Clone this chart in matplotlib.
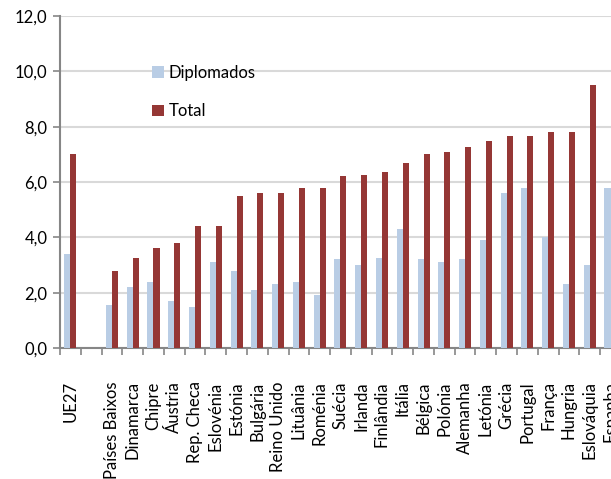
import numpy as np
import matplotlib
matplotlib.use("Agg")
from matplotlib import pyplot as plt

# data
paises = ['UE27', '', 'Países Baixos', 'Dinamarca', 'Chipre', 'Áustria', 'Rep. Checa',
          'Eslovénia', 'Estónia', 'Bulgária', 'Reino Unido', 'Lituânia', 'Roménia',
          'Suécia', 'Irlanda', 'Finlândia', 'Itália', 'Bélgica', 'Polónia', 'Alemanha',
          'Letónia', 'Grécia', 'Portugal', 'França', 'Hungria', 'Eslováquia', 'Espanha']
diplomados = [3.4, 0, 1.55, 2.2, 2.4, 1.7, 1.5, 3.1, 2.8, 2.1, 2.3, 2.4, 1.9,
              3.2, 3.0, 3.25, 4.3, 3.2, 3.1, 3.2, 3.9, 5.6, 5.8, 4.0, 2.3, 3.0, 5.8]
total = [7.0, 0, 2.8, 3.25, 3.6, 3.8, 4.4, 4.4, 5.5, 5.6, 5.6, 5.8, 5.8,
         6.2, 6.25, 6.35, 6.7, 7.0, 7.1, 7.25, 7.5, 7.65, 7.65, 7.8, 7.8, 9.5, 10.5]
yticks = [0, 2, 4, 6, 8, 10, 12]
ytick_labels = ['0,0', '2,0', '4,0', '6,0', '8,0', '10,0', '12,0']

AZUL = '#b9cde5'
VERMELHO = '#953735'
GRID = '#d9d9d9'
EIXO = '#868686'

plt.rcParams['font.family'] = ['Lato', 'DejaVu Sans']

fig = plt.figure(figsize=(6.11, 4.79), dpi=100)
# the original chart is cropped: the axes stops in the middle of the last category
ax = fig.add_axes([60 / 611, 131 / 479, 550.5 / 611, 332 / 479])

x = np.arange(len(paises))
w = 0.29
ax.bar(x - w / 2, diplomados, width=w, color=AZUL, label='Diplomados', zorder=3)
ax.bar(x + w / 2, total, width=w, color=VERMELHO, label='Total', zorder=3)

ax.set_yticks(yticks)
ax.set_yticklabels(ytick_labels, fontsize=12)
ax.yaxis.grid(True, color=GRID, linewidth=1.5, zorder=0)
ax.set_axisbelow(True)

ax.set_xticks(x)
ax.set_xticklabels(paises, rotation=90, fontsize=12, va='top', ha='center')
ax.set_xticks(np.arange(len(paises) + 1) - 0.5, minor=True)
ax.tick_params(axis='x', which='major', length=0, pad=24)
ax.tick_params(axis='x', which='minor', length=5, color=EIXO, width=1.2)
ax.tick_params(axis='y', length=5, color=EIXO, width=1.2, pad=4)

# limits after the ticks, otherwise set_xticks widens the view
ax.set_ylim(0, 12)
ax.set_xlim(-0.5, len(paises) - 1)

for lado in ['top', 'right']:
    ax.spines[lado].set_visible(False)
for lado in ['left', 'bottom']:
    ax.spines[lado].set_color(EIXO)
    ax.spines[lado].set_linewidth(1.5)

ax.legend(loc='upper left', bbox_to_anchor=(152 / 611, 1 - 65 / 479),
          bbox_transform=fig.transFigure, frameon=False, fontsize=12,
          handlelength=0.7, handleheight=0.7, handletextpad=0.3,
          labelspacing=1.33, borderpad=0, borderaxespad=0)

fig.savefig('out.png', dpi=100)
